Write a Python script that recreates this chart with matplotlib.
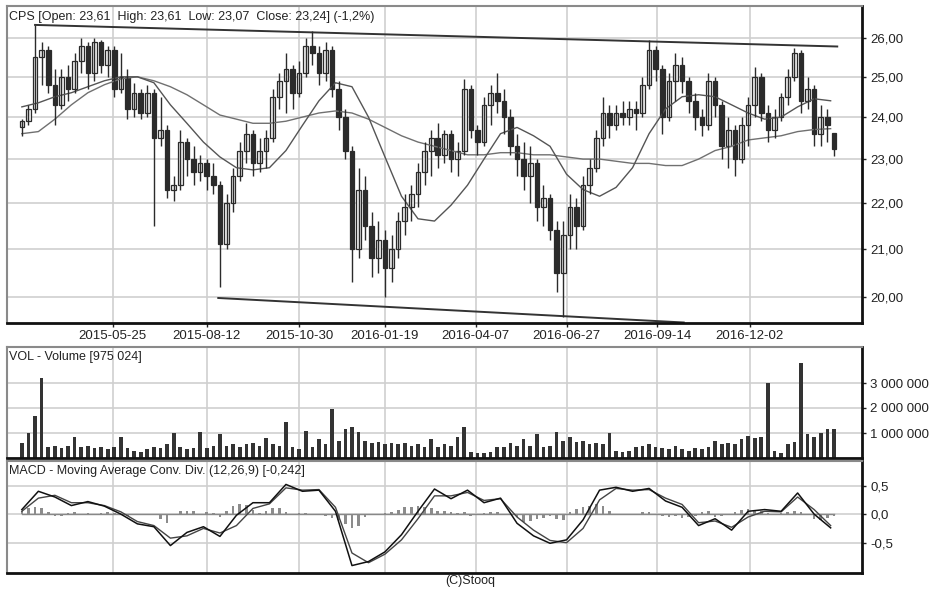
import numpy as np
import matplotlib
matplotlib.use('Agg')
import matplotlib.pyplot as plt
from matplotlib.ticker import FixedLocator, FuncFormatter, NullLocator

plt.rcParams['font.family'] = ['Liberation Sans', 'DejaVu Sans']

# candles, one per 4 sessions
opens = [23.75, 23.9, 24.2, 25.5, 25.7, 24.8, 24.3, 25.0, 24.7, 25.4,
         25.8, 25.1, 25.9, 25.3, 25.7, 24.7, 25.0, 24.2, 24.6, 24.1,
         24.6, 23.5, 23.7, 22.3, 22.4, 23.4, 23.0, 22.7, 22.9, 22.6,
         22.4, 21.1, 22.0, 22.6, 23.2, 23.6, 22.9, 23.2, 23.5, 24.5,
         24.9, 25.2, 24.6, 25.1, 25.8, 25.6, 25.1, 25.7, 24.7, 24.0,
         23.2, 21.0, 22.3, 21.5, 20.8, 21.2, 20.6, 21.0, 21.6, 21.9,
         22.2, 22.7, 23.2, 23.5, 23.1, 23.6, 23.0, 23.2, 24.7, 23.7,
         23.4, 24.3, 24.6, 24.4, 24.0, 23.3, 23.0, 22.6, 22.9, 21.9,
         22.1, 21.4, 20.5, 21.3, 21.9, 21.5, 22.4, 22.8, 23.5, 24.1,
         23.8, 24.1, 24.0, 24.2, 24.1, 24.8, 25.7, 25.2, 24.0, 24.9,
         25.3, 24.9, 24.4, 24.0, 23.8, 24.9, 24.3, 23.3, 23.7, 23.0,
         23.8, 24.3, 25.0, 24.1, 23.7, 24.0, 24.5, 25.0, 25.6, 24.4,
         24.7, 23.6, 24.0, 23.61]
highs = [23.95, 24.3, 26.35, 25.9, 25.8, 25.2, 25.2, 25.3, 25.6, 26.0,
         25.9, 26.0, 25.95, 25.8, 25.8, 25.6, 25.2, 24.85, 24.7, 24.8,
         24.7, 24.5, 23.8, 22.6, 23.7, 23.5, 23.3, 23.1, 23.0, 22.9,
         22.5, 22.2, 22.8, 23.4, 23.85, 23.7, 23.5, 23.7, 24.7, 25.1,
         25.6, 25.3, 25.4, 26.0, 26.2, 25.8, 25.9, 25.8, 24.9, 24.2,
         23.3, 22.8, 22.6, 21.8, 21.6, 21.4, 21.3, 21.8, 22.2, 22.4,
         22.9, 23.4, 23.7, 23.85, 23.7, 23.7, 23.4, 24.95, 24.8, 23.8,
         24.5, 24.8, 25.1, 24.7, 24.2, 23.6, 23.4, 23.3, 23.0, 22.4,
         22.2, 21.6, 21.6, 22.2, 22.1, 22.6, 23.0, 23.7, 24.5, 24.3,
         24.3, 24.4, 24.4, 24.4, 25.0, 25.95, 25.8, 25.3, 25.1, 25.6,
         25.5, 25.0, 24.6, 24.2, 25.1, 25.0, 24.4, 24.0, 23.8, 24.0,
         24.5, 25.25, 25.1, 24.3, 24.2, 24.6, 25.2, 25.75, 25.7, 25.0,
         24.8, 24.3, 24.2, 23.61]
lows = [23.55, 23.8, 24.1, 24.8, 24.6, 23.8, 24.2, 24.4, 24.6, 25.1,
        24.7, 24.9, 25.1, 25.0, 24.5, 24.6, 23.95, 24.0, 23.95, 24.0,
        21.5, 23.3, 22.1, 22.05, 22.3, 22.6, 22.4, 22.5, 22.3, 22.2,
        20.2, 21.0, 21.8, 22.5, 22.9, 22.6, 22.7, 22.8, 23.4, 24.2,
        24.1, 24.2, 24.5, 25.0, 25.3, 24.8, 24.9, 24.5, 23.7, 23.0,
        20.3, 20.8, 21.2, 20.4, 20.5, 20.0, 20.3, 20.8, 21.3, 21.6,
        21.9, 22.4, 22.6, 22.8, 22.9, 22.7, 22.6, 23.1, 23.5, 23.1,
        23.3, 23.8, 24.1, 23.6, 23.1, 22.6, 22.3, 22.0, 21.6, 21.5,
        21.2, 20.1, 19.6, 21.0, 21.0, 21.4, 22.2, 22.7, 23.3, 23.5,
        23.7, 23.8, 23.8, 23.7, 24.0, 24.7, 24.9, 23.6, 23.9, 24.4,
        24.6, 24.1, 23.7, 23.55, 23.7, 24.0, 23.0, 22.8, 22.6, 22.9,
        23.3, 24.0, 23.9, 23.4, 23.5, 23.9, 24.3, 24.9, 24.1, 24.2,
        23.3, 23.3, 23.4, 23.07]
closes = [23.9, 24.2, 25.5, 25.7, 24.8, 24.3, 25.0, 24.7, 25.4, 25.8,
          25.1, 25.9, 25.3, 25.7, 24.7, 25.0, 24.2, 24.6, 24.1, 24.6,
          23.5, 23.7, 22.3, 22.4, 23.4, 23.0, 22.7, 22.9, 22.6, 22.4,
          21.1, 22.0, 22.6, 23.2, 23.6, 22.9, 23.2, 23.5, 24.5, 24.9,
          25.2, 24.6, 25.1, 25.8, 25.6, 25.1, 25.7, 24.7, 24.0, 23.2,
          21.0, 22.3, 21.5, 20.8, 21.2, 20.6, 21.0, 21.6, 21.9, 22.2,
          22.7, 23.2, 23.5, 23.1, 23.6, 23.0, 23.2, 24.7, 23.7, 23.4,
          24.3, 24.6, 24.4, 24.0, 23.3, 23.0, 22.6, 22.9, 21.9, 22.1,
          21.4, 20.5, 21.3, 21.9, 21.5, 22.4, 22.8, 23.5, 24.1, 23.8,
          24.1, 24.0, 24.2, 24.1, 24.8, 25.7, 25.2, 24.0, 24.9, 25.3,
          24.9, 24.4, 24.0, 23.8, 24.9, 24.3, 23.3, 23.7, 23.0, 23.8,
          24.3, 25.0, 24.1, 23.7, 24.0, 24.5, 25.0, 25.6, 24.4, 24.7,
          23.6, 24.0, 23.8, 23.24]
# volume in millions, same 4-session steps
volume_m = [0.6, 1.0, 1.7, 3.2, 0.45, 0.5, 0.4, 0.5, 0.85, 0.45,
            0.5, 0.4, 0.45, 0.35, 0.45, 0.85, 0.4, 0.3, 0.25, 0.35,
            0.45, 0.4, 0.55, 1.0, 0.45, 0.35, 0.4, 1.05, 0.4, 0.5,
            0.95, 0.5, 0.55, 0.45, 0.55, 0.6, 0.5, 0.8, 0.55, 0.5,
            1.45, 0.45, 0.35, 1.1, 0.45, 0.75, 0.55, 1.95, 0.7, 1.15,
            1.25, 1.05, 0.7, 0.6, 0.65, 0.55, 0.6, 0.55, 0.6, 0.5,
            0.55, 0.45, 0.75, 0.45, 0.55, 0.5, 0.85, 1.25, 0.25, 0.2,
            0.2, 0.25, 0.45, 0.45, 0.6, 0.5, 0.75, 0.5, 0.95, 0.45,
            0.5, 1.05, 0.7, 0.85, 0.65, 0.7, 0.55, 0.6, 0.55, 1.0,
            0.3, 0.25, 0.3, 0.45, 0.5, 0.55, 0.45, 0.4, 0.35, 0.5,
            0.35, 0.3, 0.4, 0.35, 0.45, 0.7, 0.55, 0.6, 0.55, 0.75,
            0.9, 0.8, 0.85, 3.0, 0.3, 0.2, 0.55, 0.65, 3.8, 0.95,
            0.85, 1.0, 1.15, 1.15]
macd_hist = [0.05, 0.10, 0.12, 0.10, 0.03, -0.04, -0.03, 0.02, 0.03, 0.01,
             0.02, -0.01, 0.02, 0.03, 0.02, -0.02, -0.04, -0.02, -0.02, -0.01,
             0.01, -0.08, -0.15, 0.01, 0.05, 0.06, 0.05, 0.01, 0.03, 0.02,
             -0.05, 0.05, 0.15, 0.18, 0.16, 0.07, 0.02, 0.06, 0.10, 0.10,
             0.04, -0.01, 0.02, 0.02, 0.0, -0.02, -0.04, -0.06, -0.10, -0.18,
             -0.25, -0.20, -0.05, 0.0, 0.01, 0.02, 0.04, 0.08, 0.12, 0.13,
             0.14, 0.12, 0.10, 0.06, 0.05, 0.03, 0.02, 0.03, -0.03, -0.02,
             0.02, 0.03, 0.03, 0.01, 0.0, -0.05, -0.13, -0.12, -0.09, -0.06,
             -0.04, -0.08, -0.10, 0.03, 0.09, 0.12, 0.15, 0.18, 0.14, 0.06,
             0.01, 0.0, 0.01, 0.0, 0.03, 0.03, -0.02, -0.03, -0.05, -0.04,
             -0.06, -0.05, -0.03, 0.04, 0.05, -0.05, -0.04, -0.02, 0.03, 0.07,
             0.09, 0.08, 0.05, 0.02, 0.01, 0.02, 0.03, 0.05, 0.03, -0.02,
             -0.08, -0.10, -0.06, -0.03]

# lines, one value per 10 sessions
ma_fast = [24.25, 24.35, 24.5, 24.6, 24.75, 24.9, 25.0, 25.0, 24.85, 24.3,
           23.85, 23.4, 23.05, 22.8, 22.75, 22.8, 23.2, 23.8, 24.4, 24.85,
           24.75, 24.0, 23.05, 22.15, 21.65, 21.6, 21.95, 22.4, 23.0, 23.6,
           23.75, 23.55, 23.3, 22.65, 22.3, 22.15, 22.35, 22.8, 23.6, 24.2,
           24.5, 24.55, 24.5, 24.3, 24.1, 23.95, 24.0, 24.25, 24.45, 24.4]
ma_slow = [23.6, 23.65, 23.95, 24.3, 24.6, 24.8, 24.95, 25.0, 24.9, 24.75,
           24.55, 24.3, 24.05, 23.95, 23.85, 23.85, 23.9, 24.0, 24.1, 24.15,
           24.1, 23.95, 23.75, 23.55, 23.4, 23.3, 23.2, 23.1, 23.1, 23.15,
           23.15, 23.1, 23.1, 23.05, 23.0, 23.0, 22.95, 22.9, 22.9, 22.85,
           22.85, 23.0, 23.2, 23.3, 23.45, 23.5, 23.55, 23.65, 23.7, 23.72]
macd_line = [0.08, 0.40, 0.30, 0.15, 0.22, 0.14, 0.0, -0.17, -0.22, -0.55,
             -0.32, -0.22, -0.39, -0.02, 0.20, 0.20, 0.52, 0.40, 0.42, 0.05,
             -0.90, -0.83, -0.66, -0.36, 0.05, 0.44, 0.27, 0.42, 0.20, 0.28,
             -0.16, -0.38, -0.51, -0.45, -0.10, 0.42, 0.47, 0.40, 0.45, 0.23,
             0.12, -0.20, -0.08, -0.28, 0.05, 0.08, 0.05, 0.37, 0.0, -0.24]
signal_line = [0.05, 0.28, 0.33, 0.20, 0.20, 0.15, 0.04, -0.13, -0.20, -0.42,
               -0.38, -0.25, -0.33, -0.20, 0.10, 0.18, 0.46, 0.42, 0.43, 0.12,
               -0.68, -0.85, -0.70, -0.45, -0.08, 0.32, 0.32, 0.38, 0.24, 0.27,
               -0.05, -0.28, -0.46, -0.50, -0.25, 0.25, 0.45, 0.42, 0.43, 0.28,
               0.17, -0.15, -0.12, -0.23, -0.05, 0.05, 0.04, 0.30, 0.08, -0.20]

date_labels = ['2015-05-25', '2015-08-12', '2015-10-30', '2016-01-19',
               '2016-04-07', '2016-06-27', '2016-09-14', '2016-12-02']
date_sessions = [55, 112, 168, 220, 275, 330, 385, 441]
upper_trend = ([8, 494], [26.35, 25.78])
lower_trend = ([119, 401], [19.98, 19.49])

cx = np.arange(len(closes)) * 4
lx = np.arange(len(ma_fast)) * 10

dark = '#2b2b2b'
grid_c = '#cfcfcf'
txt_c = '#222222'

fig = plt.figure(figsize=(9.48, 5.93), dpi=100)
W, H = 948.0, 593.0

def make_ax(top, bottom):
    return fig.add_axes([7 / W, 1 - bottom / H, 855 / W, (bottom - top) / H])

ax = make_ax(6, 323)
axv = make_ax(347, 458)
axm = make_ax(461, 573)

for a in (ax, axv, axm):
    a.set_xlim(-9, 509)
    a.xaxis.set_major_locator(FixedLocator(date_sessions))
    a.grid(True, color=grid_c, lw=1.2)
    a.set_axisbelow(True)
    a.yaxis.tick_right()
    a.tick_params(axis='y', length=3, width=1, pad=3, labelsize=9.5, colors=txt_c)
    a.tick_params(axis='x', length=3, width=1, colors=txt_c)
    a.spines['top'].set_color('#8a8a8a')
    a.spines['left'].set_color('#8a8a8a')
    a.spines['top'].set_linewidth(1.5)
    a.spines['left'].set_linewidth(1.5)
    a.spines['bottom'].set_color('#111111')
    a.spines['right'].set_color('#111111')
    a.spines['bottom'].set_linewidth(2)
    a.spines['right'].set_linewidth(2)

ax.set_xticklabels(date_labels)
ax.tick_params(axis='x', labelsize=9.5, pad=2)
for a in (axv, axm):
    a.set_xticklabels([])
    a.tick_params(axis='x', length=0)

# price panel
ax.set_yscale('log')
ax.set_ylim(19.48, 26.86)
ax.yaxis.set_major_locator(FixedLocator([20, 21, 22, 23, 24, 25, 26]))
ax.yaxis.set_minor_locator(NullLocator())
ax.yaxis.set_major_formatter(FuncFormatter(lambda v, p: ('%.2f' % v).replace('.', ',')))

ax.plot(lx, ma_slow, color='#707070', lw=1.0)
ax.plot(lx, ma_fast, color='#555555', lw=1.0)
ax.plot(upper_trend[0], upper_trend[1], color='#333333', lw=1.4)
ax.plot(lower_trend[0], lower_trend[1], color='#333333', lw=1.4)

o = np.array(opens)
c = np.array(closes)
ax.vlines(cx, lows, highs, color=dark, lw=1.0)
body_lo = np.minimum(o, c)
body_h = np.maximum(np.abs(c - o), 0.02)
faces = ['#f2f2f2' if cc >= oo else dark for oo, cc in zip(o, c)]
ax.bar(cx, body_h, bottom=body_lo, width=2.8, color=faces, edgecolor=dark, linewidth=0.9)

ax.text(0.002, 0.985, 'CPS [Open: 23,61  High: 23,61  Low: 23,07  Close: 23,24] (-1,2%)',
        transform=ax.transAxes, ha='left', va='top', fontsize=9, color=txt_c)

# volume panel
axv.set_ylim(0, 4.44)
axv.yaxis.set_major_locator(FixedLocator([1, 2, 3]))
axv.yaxis.set_major_formatter(FuncFormatter(lambda v, p: '%d 000 000' % round(v)))
axv.bar(cx, volume_m, width=2.2, color='#333333', linewidth=0)
axv.text(0.002, 0.96, 'VOL - Volume [975 024]', transform=axv.transAxes,
         ha='left', va='top', fontsize=9, color=txt_c)

# macd panel
axm.set_ylim(-1.03, 0.93)
axm.yaxis.set_major_locator(FixedLocator([-0.5, 0.0, 0.5]))
axm.yaxis.set_major_formatter(FuncFormatter(lambda v, p: ('%.1f' % v).replace('.', ',')))
axm.plot([cx[0], cx[-1]], [0, 0], color='#888888', lw=1.0)
axm.bar(cx, macd_hist, width=1.6, color='#8c8c8c', linewidth=0)
axm.plot(lx, signal_line, color='#444444', lw=1.0)
axm.plot(lx, macd_line, color='#111111', lw=1.1)
axm.text(0.002, 0.96, 'MACD - Moving Average Conv. Div. (12,26,9) [-0,242]',
         transform=axm.transAxes, ha='left', va='top', fontsize=9, color=txt_c)

fig.text(470 / W, 1 - 581 / H, '(C)Stooq', ha='center', va='center', fontsize=9, color=txt_c)

fig.savefig('out.png', dpi=100, facecolor='white')
